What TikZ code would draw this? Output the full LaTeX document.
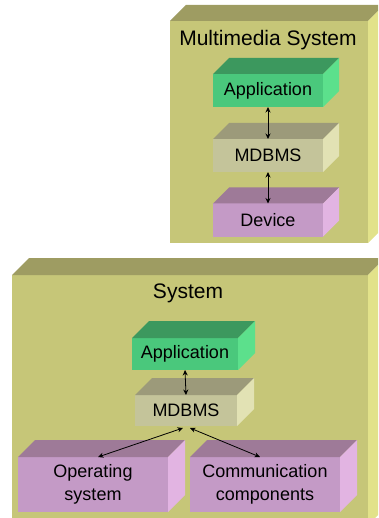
\documentclass[tikz,border=0pt]{standalone}
\usepackage{fontspec}
\setmainfont{Liberation Sans}
\usepackage{tikz}
\usepackage{color}
\usetikzlibrary{arrows.meta}

\definecolor{shellfront}{RGB}{198,198,120}
\definecolor{shelltop}{RGB}{158,156,98}
\definecolor{shellside}{RGB}{226,226,138}
\definecolor{appfront}{RGB}{74,200,124}
\definecolor{apptop}{RGB}{60,152,94}
\definecolor{appside}{RGB}{92,224,140}
\definecolor{dbfront}{RGB}{196,196,154}
\definecolor{dbtop}{RGB}{156,154,122}
\definecolor{dbside}{RGB}{226,226,180}
\definecolor{devfront}{RGB}{196,154,198}
\definecolor{devtop}{RGB}{158,122,152}
\definecolor{devside}{RGB}{226,180,226}

% top and right faces of a block: name, depth, top colour, side colour
\newcommand{\cubefaces}[4]{%
  \fill[#3] (#1.north west) -- (#1.north east) -- ++(#2,-#2)
    -- ([xshift=#2pt,yshift=#2pt]#1.north west) -- cycle;
  \fill[#4] (#1.north east) -- ++(#2,-#2)
    -- ([xshift=#2pt,yshift=#2pt]#1.south east) -- (#1.south east) -- cycle;
}

\tikzset{
  block/.style={rectangle, inner sep=0pt, outer sep=0pt, align=center,
    font=\fontsize{18}{23.5}\selectfont},
  shell/.style={rectangle, inner sep=0pt, outer sep=0pt, fill=shellfront},
  title/.style={font=\fontsize{21}{24}\selectfont},
  link/.style={{Stealth[length=5.5pt,width=5pt]}-{Stealth[length=5.5pt,width=5pt]}, line width=0.8pt},
}

\begin{document}
\begin{tikzpicture}[x=1pt,y=-1pt]
  \clip (0,0) rectangle (378,518);

  \node[shell, minimum width=198pt, minimum height=222pt] at(269,132)(mmshell){};
  \cubefaces{mmshell}{16}{shelltop}{shellside}
  \node[title] at(268,40)(mmtitle){Multimedia System};

  \node[block, fill=appfront, minimum width=110pt, minimum height=33pt] at(268,90.5)(mmapp){Application};
  \cubefaces{mmapp}{16}{apptop}{appside}
  \node[block, fill=dbfront, minimum width=110pt, minimum height=33pt] at(268,155.5)(mmdb){MDBMS};
  \cubefaces{mmdb}{16}{dbtop}{dbside}
  \node[block, fill=devfront, minimum width=110pt, minimum height=33pt] at(268,220)(mmdev){Device};
  \cubefaces{mmdev}{16}{devtop}{devside}

  \draw [link](mmapp.south) -- (mmdb.north);
  \draw [link](mmdb.south) -- (mmdev.north);

  \node[shell, minimum width=356pt, minimum height=250pt] at(190,400)(sysshell){};
  \cubefaces{sysshell}{17}{shelltop}{shellside}
  \node[title] at(188,293)(systitle){System};

  \node[block, fill=appfront, minimum width=106pt, minimum height=32pt] at(185,354)(sysapp){Application};
  \cubefaces{sysapp}{17}{apptop}{appside}
  \node[block, fill=dbfront, minimum width=102pt, minimum height=31pt] at(186,410.5)(sysdb){MDBMS};
  \cubefaces{sysdb}{17}{dbtop}{dbside}
  \node[block, fill=devfront, minimum width=150pt, minimum height=55pt] at(93,484.5)(os){Operating\\system};
  \cubefaces{os}{17}{devtop}{devside}
  \node[block, fill=devfront, minimum width=150pt, minimum height=55pt] at(265,484.5)(comm){Communication\\components};
  \cubefaces{comm}{17}{devtop}{devside}

  \draw [link](sysapp.south) -- (sysdb.north);
  \draw [link]([xshift=-3pt,yshift=-2pt]sysdb.south) -- ([xshift=5pt]os.north);
  \draw [link]([xshift=4pt,yshift=-2pt]sysdb.south) -- ([xshift=-5pt]comm.north);
\end{tikzpicture}
\end{document}
